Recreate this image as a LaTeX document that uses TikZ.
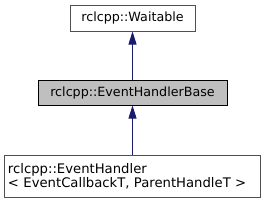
\documentclass[tikz,border=0pt]{standalone}
\usepackage{fontspec}
\setmainfont{DejaVu Sans}
\usetikzlibrary{arrows.meta}
\definecolor{edgeblue}{HTML}{191970}
\definecolor{boxgray}{HTML}{505050}
\definecolor{curfill}{HTML}{BFBFBF}
\begin{document}
\begin{tikzpicture}[x=1pt,y=1pt,
  cls/.style={draw=boxgray, line width=1pt, fill=white, inner sep=0pt,
    font=\fontsize{12.7}{14.5}\selectfont},
  cur/.style={cls, draw=black, fill=curfill},
  inh/.style={draw=edgeblue, line width=1pt,
    -{Triangle[length=13pt,width=8pt,fill=edgeblue]}}]
\useasboundingbox (0,0) rectangle (267,-201);
\node[cls, minimum width=125, minimum height=26] (wait) at (132.5,-18) {rclcpp::Waitable};
\node[cur, minimum width=189, minimum height=25] (base) at (132.5,-92.5) {rclcpp::EventHandlerBase};
\node[cls, minimum width=256, minimum height=42, text width=249, inner xsep=3.5pt, align=left,
  font=\fontsize{13.2}{14.5}\selectfont] (handler) at (132.5,-176)
  {rclcpp::EventHandler\\{<} EventCallbackT, ParentHandleT {>}};
\draw[inh] (base) -- (wait);
\draw[inh] (handler) -- (base);
\end{tikzpicture}
\end{document}
